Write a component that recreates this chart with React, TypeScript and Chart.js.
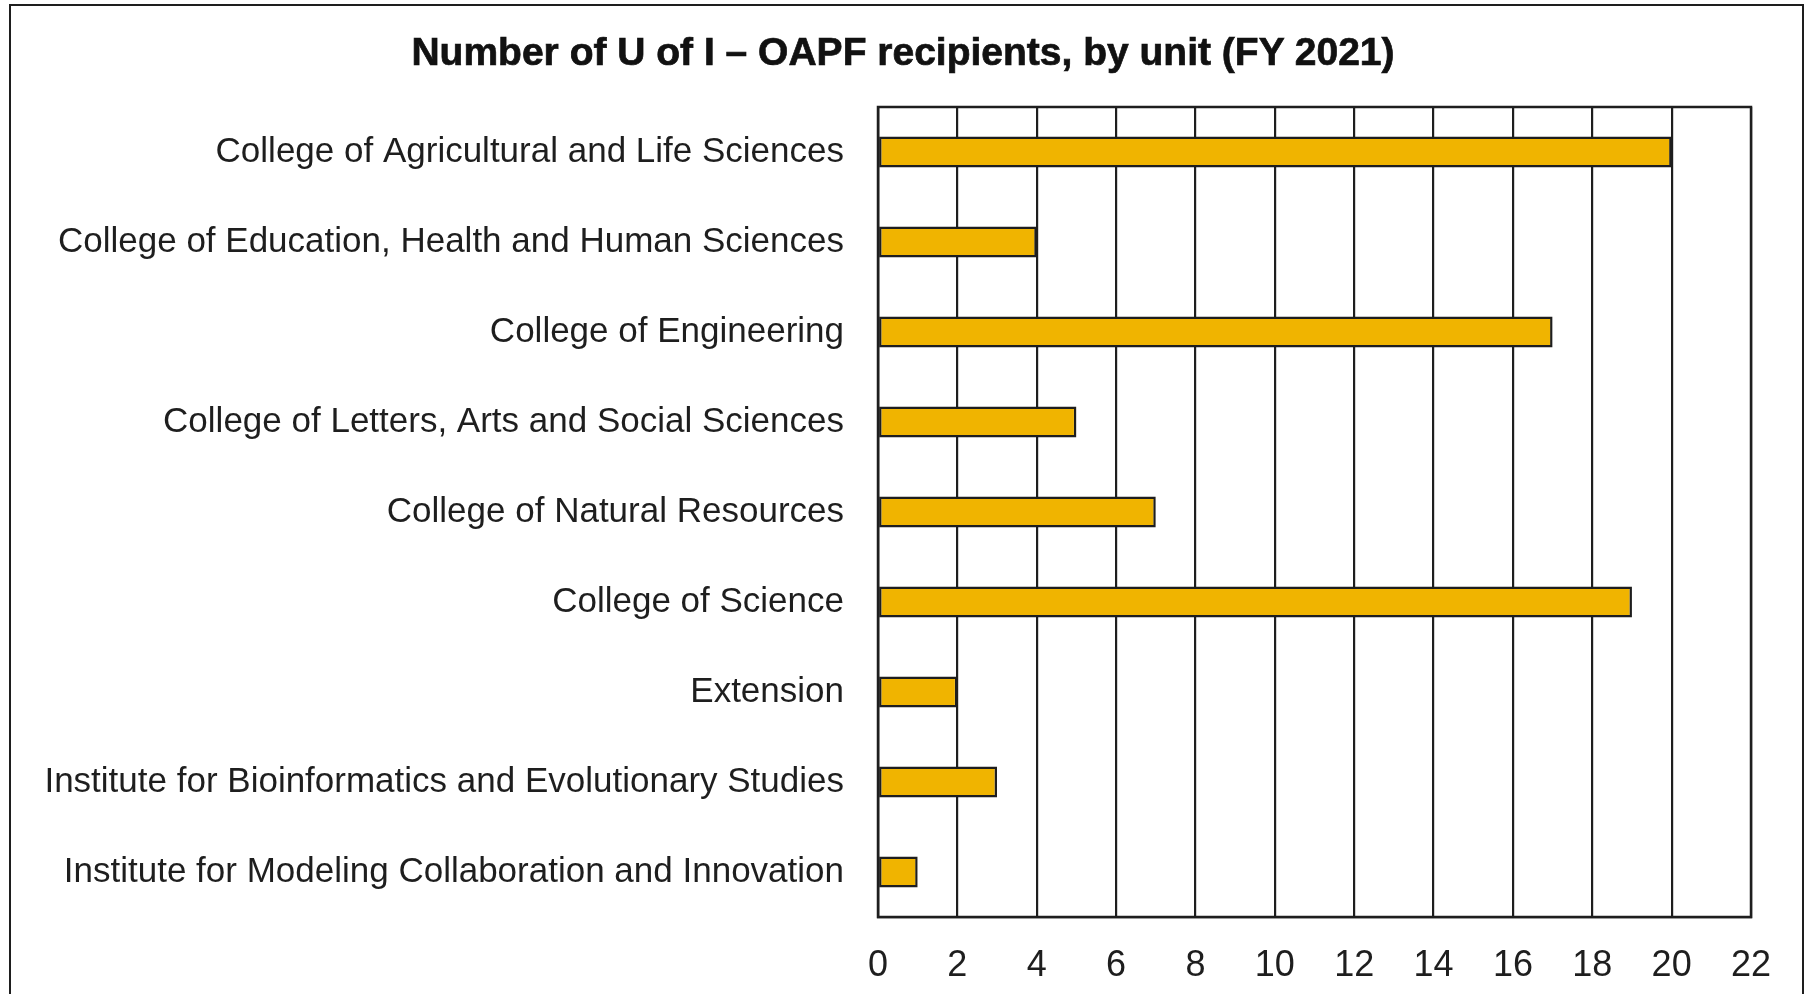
import React, { useEffect, useRef } from "react";
import { Chart, registerables } from "chart.js";

Chart.register(...registerables);

const titleText = "Number of U of I \u2013 OAPF recipients, by unit (FY 2021)";

const categories = [
  "College of Agricultural and Life Sciences",
  "College of Education, Health and Human Sciences",
  "College of Engineering",
  "College of Letters, Arts and Social Sciences",
  "College of Natural Resources",
  "College of Science",
  "Extension",
  "Institute for Bioinformatics and Evolutionary Studies",
  "Institute for Modeling Collaboration and Innovation",
];

const recipients = [20, 4, 17, 5, 7, 19, 2, 3, 1];

const xMin = 0;
const xMax = 22;
const xStep = 2;

const INK = "#1e1e1e";
const BAR = "#F0B400";
const FONT = "'Liberation Sans', Arial, sans-serif";

const frame = {
  id: "frame",
  afterDatasetsDraw(chart: any) {
    const { ctx, chartArea } = chart;
    ctx.save();
    ctx.strokeStyle = INK;
    ctx.lineWidth = 2.5;
    ctx.strokeRect(chartArea.left, chartArea.top, chartArea.right - chartArea.left, chartArea.bottom - chartArea.top);
    ctx.restore();
  },
};

export default function App() {
  const ref = useRef<HTMLCanvasElement | null>(null);

  useEffect(() => {
    if (!ref.current) return;
    const chart = new Chart(ref.current, {
      type: "bar",
      data: {
        labels: categories,
        datasets: [
          {
            data: recipients,
            backgroundColor: BAR,
            borderColor: INK,
            borderWidth: 2.5,
            borderSkipped: false,
            barPercentage: 0.345,
            categoryPercentage: 1,
          },
        ],
      },
      options: {
        indexAxis: "y",
        animation: false,
        responsive: false,
        maintainAspectRatio: false,
        layout: { padding: { top: 107, right: 54, bottom: 10, left: 0 } },
        plugins: {
          legend: { display: false },
          tooltip: { enabled: false },
          title: { display: false },
        },
        scales: {
          x: {
            min: xMin,
            max: xMax,
            grid: { color: INK, lineWidth: 2.2, drawTicks: false },
            border: { color: INK, width: 2.2 },
            ticks: {
              stepSize: xStep,
              color: INK,
              padding: 27,
              font: { family: FONT, size: 36 },
            },
            afterFit(scale: any) {
              scale.height = 67;
            },
          },
          y: {
            grid: { display: false, drawTicks: false },
            border: { color: INK, width: 2.2 },
            ticks: {
              color: INK,
              padding: 34,
              font: { family: FONT, size: 35 },
            },
            afterFit(scale: any) {
              scale.width = 878;
            },
          },
        },
      },
      plugins: [frame],
    });
    return () => chart.destroy();
  }, []);

  return (
    <div
      style={{
        position: "fixed",
        left: 0,
        top: 0,
        width: 1805,
        height: 994,
        overflow: "hidden",
        background: "#fff",
      }}
    >
      <div
        style={{
          position: "absolute",
          left: 9,
          top: 4,
          width: 1795,
          height: 1200,
          boxSizing: "border-box",
          border: `2px solid ${INK}`,
        }}
      />
      <canvas ref={ref} width={1805} height={994} style={{ position: "absolute", left: 0, top: 0 }} />
      <div
        style={{
          position: "absolute",
          left: 0,
          width: 1806,
          top: 52,
          transform: "translateY(-50%)",
          textAlign: "center",
          fontFamily: FONT,
          fontWeight: "bold",
          fontSize: 39,
          color: "#111",
          lineHeight: "46px",
          whiteSpace: "nowrap",
          WebkitTextStroke: "0.7px #111",
        }}
      >
        {titleText}
      </div>
    </div>
  );
}
